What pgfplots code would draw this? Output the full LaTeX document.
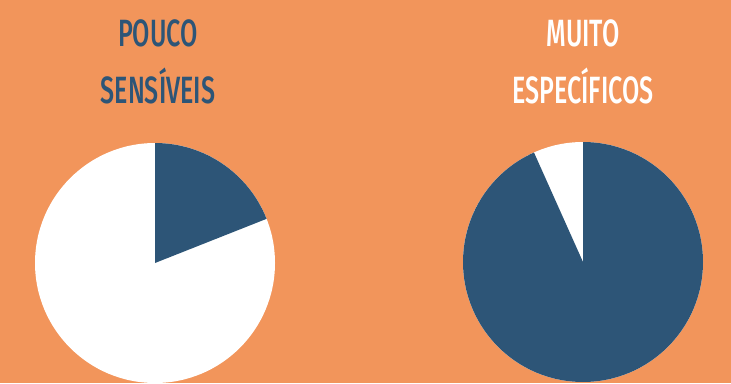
\documentclass[border=0pt]{standalone}
\usepackage{pgfplots}
\pgfplotsset{compat=1.18}
\usepackage{pgfplotstable}
\usepackage{fontspec}
\setmainfont{Fira Sans}
\newfontfamily\ttlfont{Fira Sans Medium}
\definecolor{bgorange}{HTML}{F2955B}
\definecolor{pieblue}{HTML}{2D5577}
% share (percent) of the dark-blue slice, clockwise from 12 o'clock
\pgfplotstableread{
pie  cx   cy   blue
1    155  263  19
2    583  262  93.3
}\piedata
\begin{document}
\begin{tikzpicture}
\fill[bgorange] (0,0) rectangle (731pt,383pt);
\begin{axis}[
  at={(0,0)}, anchor=south west,
  scale only axis, width=731pt, height=383pt,
  xmin=0, xmax=731, ymin=0, ymax=383, y dir=reverse,
  hide axis, clip=true,
]
\pgfplotsforeachungrouped \i in {0,1}{%
  \pgfplotstablegetelem{\i}{cx}\of\piedata \let\cx\pgfplotsretval
  \pgfplotstablegetelem{\i}{cy}\of\piedata \let\cy\pgfplotsretval
  \pgfplotstablegetelem{\i}{blue}\of\piedata \let\bl\pgfplotsretval
  \pgfmathsetmacro\endang{90-3.6*\bl}
  \edef\temp{%
    \noexpand\fill[white] (axis cs:\cx,\cy) circle[radius=120pt];
    \noexpand\fill[pieblue] (axis cs:\cx,\cy) -- ++(90:120pt) arc[start angle=90, end angle=\endang, radius=120pt] -- cycle;
  }\temp
}
\tikzset{ttl/.style={font=\ttlfont\fontsize{38}{38}\selectfont}}
\node[text=pieblue, ttl] at (axis cs:158,33) {\scalebox{0.66}[1]{POUCO}};
\node[text=pieblue, ttl] at (axis cs:158,86) {\scalebox{0.66}[1]{SENSÍVEIS}};
\node[text=white, ttl] at (axis cs:583,33) {\scalebox{0.66}[1]{MUITO}};
\node[text=white, ttl] at (axis cs:583,86) {\scalebox{0.66}[1]{ESPECÍFICOS}};
\end{axis}
\end{tikzpicture}
\end{document}
